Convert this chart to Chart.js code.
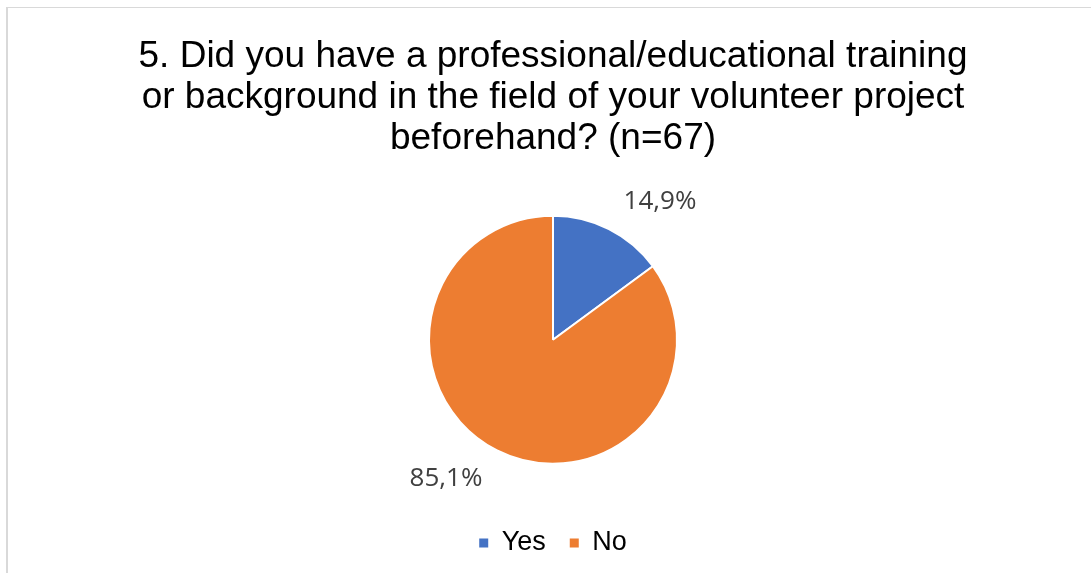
<!DOCTYPE html>
<html>
<head>
<meta charset="utf-8">
<script src="https://cdn.jsdelivr.net/npm/chart.js@4/dist/chart.umd.min.js"></script>
<style>
  html, body { margin: 0; padding: 0; background: #fff; overflow: hidden; width: 1091px; height: 573px; }
  #frame { position: absolute; left: 6px; top: 7px; width: 2000px; height: 2000px;
           border-top: 1px solid #d9d9d9; border-left: 2px solid #d9d9d9; }
  #chart { position: absolute; left: 8px; top: 8px; }
</style>
</head>
<body>
<div id="frame"></div>
<canvas id="chart" width="1090" height="600"></canvas>
<script>
// survey question 5
const titleLines = [
  '5. Did you have a professional/educational training',
  'or background in the field of your volunteer project',
  'beforehand? (n=67)'
];
const answers = ['Yes', 'No'];
const shares = [14.9, 85.1];
const sliceColors = ['#4472C4', '#ED7D31'];

// percentage labels placed just outside each slice
const outsideLabels = {
  id: 'outsideLabels',
  afterDatasetsDraw(chart) {
    const ctx = chart.ctx;
    const meta = chart.getDatasetMeta(0);
    ctx.save();
    ctx.font = '26px "Open Sans"';
    ctx.fillStyle = '#404040';
    ctx.textAlign = 'center';
    ctx.textBaseline = 'middle';
    meta.data.forEach((arc, i) => {
      const p = arc.getProps(['x', 'y', 'startAngle', 'endAngle', 'outerRadius'], true);
      const a = (p.startAngle + p.endAngle) / 2 + 0.19;
      const d = p.outerRadius + 51;
      const txt = shares[i].toFixed(1).replace('.', ',') + '%';
      ctx.fillText(txt, p.x + Math.cos(a) * d, p.y + Math.sin(a) * d);
    });
    ctx.restore();
  }
};

const baseLabels = Chart.controllers.pie.overrides.plugins.legend.labels.generateLabels;

new Chart(document.getElementById('chart'), {
  type: 'pie',
  data: {
    labels: answers,
    datasets: [{
      data: shares,
      backgroundColor: sliceColors,
      borderColor: '#ffffff',
      borderWidth: 2,
      radius: 124
    }]
  },
  options: {
    responsive: false,
    animation: false,
    devicePixelRatio: 1,
    layout: { padding: { top: 0, bottom: 41.5, left: 0, right: 0 } },
    plugins: {
      title: {
        display: true,
        text: titleLines,
        color: '#000000',
        font: { family: '"Liberation Sans", Arial, sans-serif', size: 37, weight: 'normal', lineHeight: 1.108 },
        padding: { top: 28, bottom: 15 }
      },
      legend: {
        position: 'bottom',
        labels: {
          usePointStyle: true,
          pointStyle: 'rect',
          boxWidth: 9,
          boxHeight: 9,
          padding: 24,
          color: '#000000',
          font: { family: '"Liberation Sans", Arial, sans-serif', size: 27 },
          // plain filled squares, no white outline
          generateLabels(chart) {
            return baseLabels(chart).map(item => Object.assign(item, { lineWidth: 0 }));
          }
        }
      },
      tooltip: { enabled: false }
    }
  },
  plugins: [outsideLabels]
});
</script>
</body>
</html>
